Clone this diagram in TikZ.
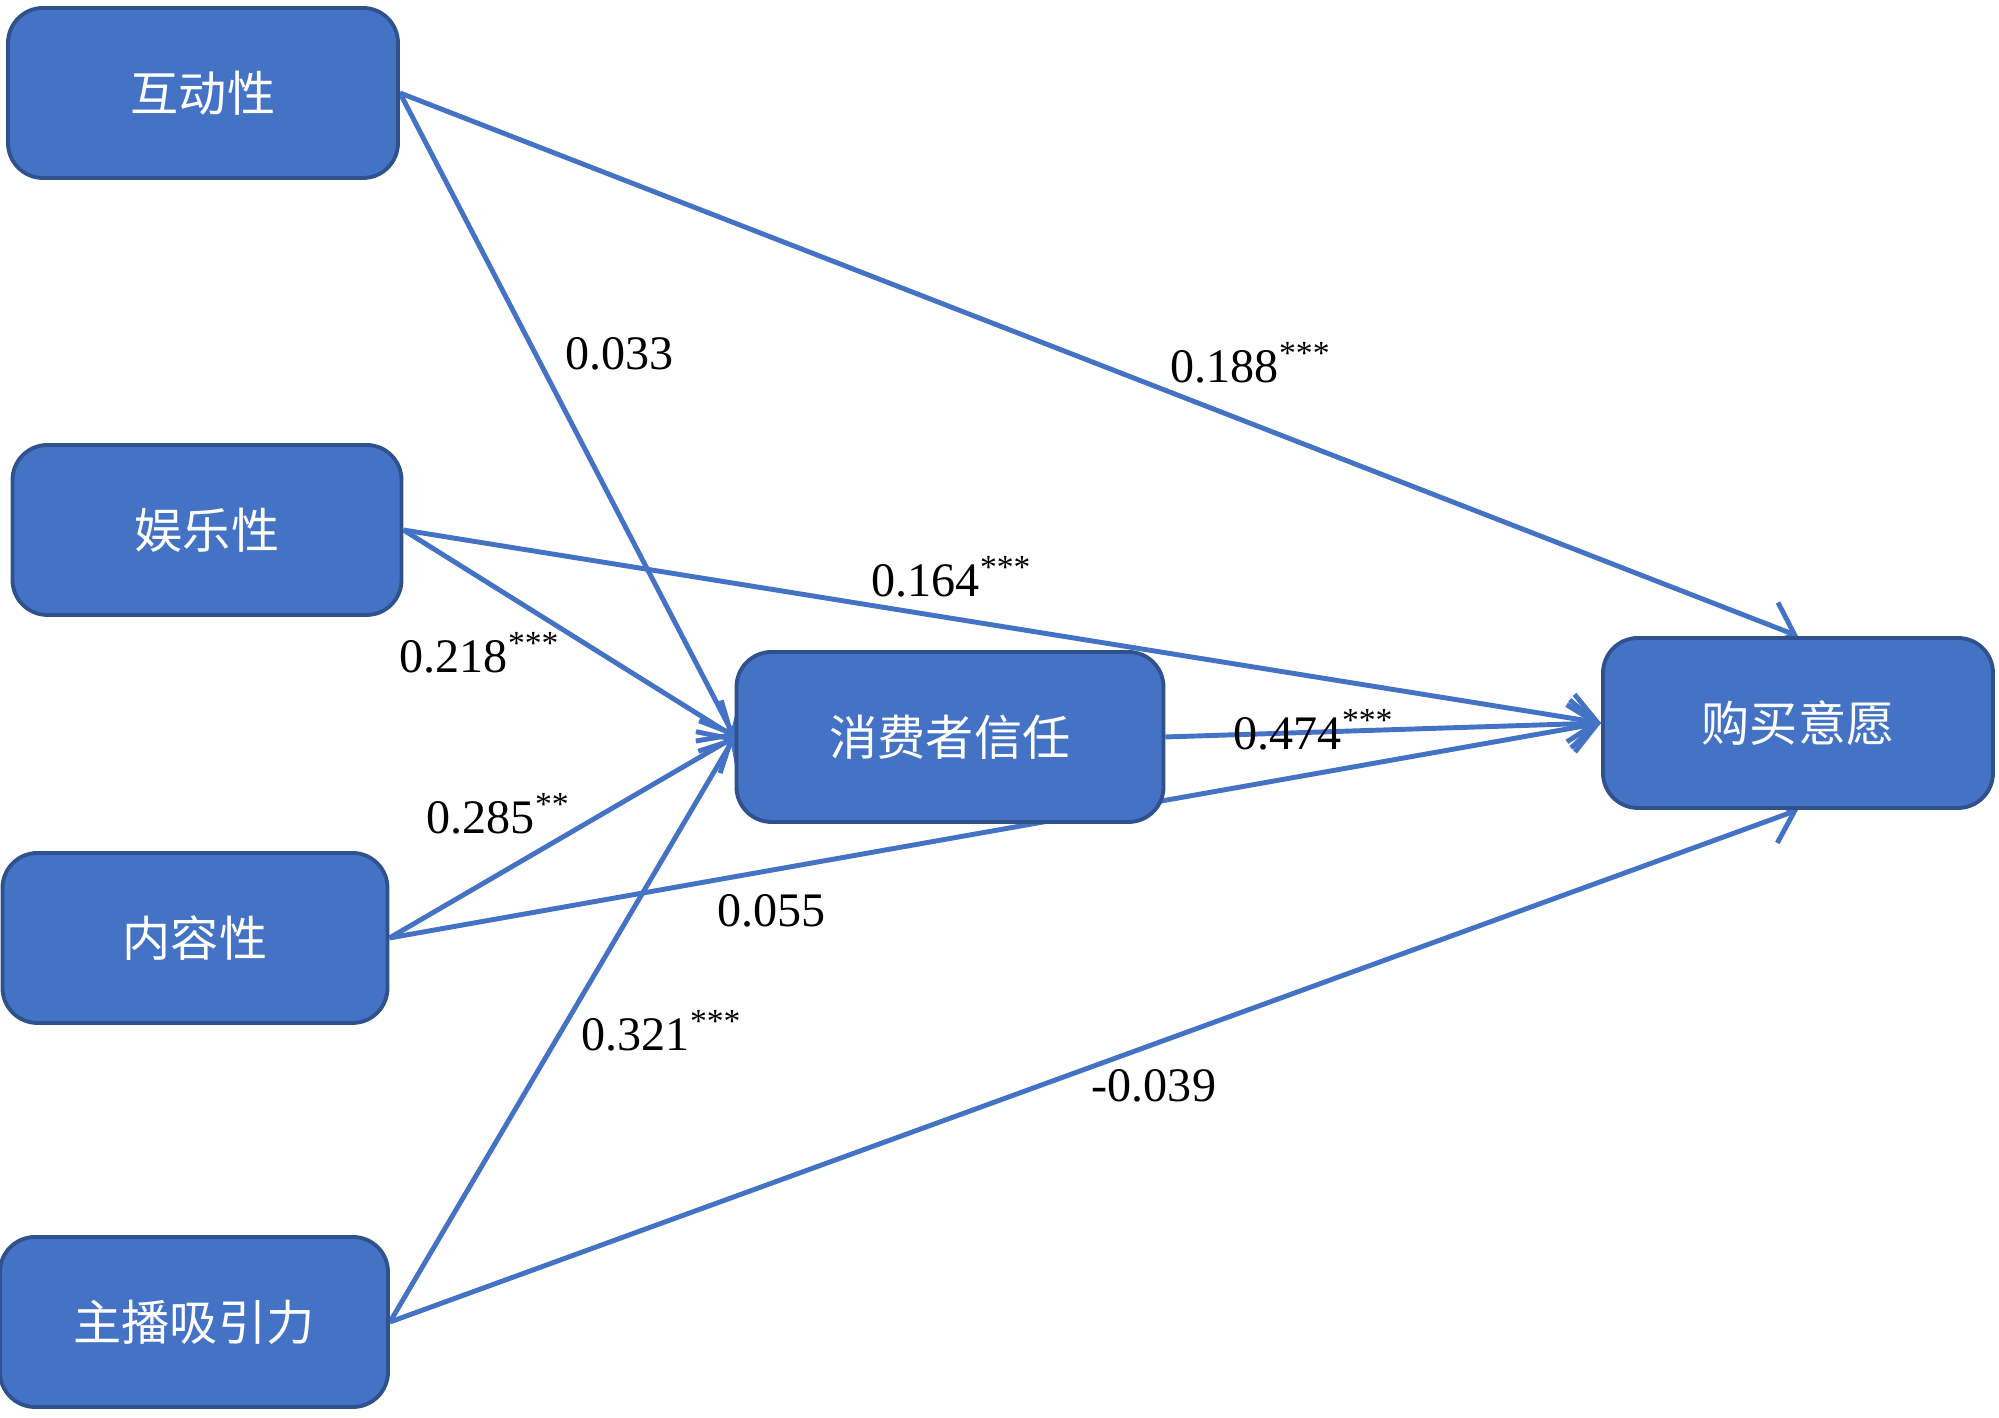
\documentclass[tikz,border=0pt]{standalone}
\usepackage{fontspec}
\setmainfont{Liberation Serif}
\newfontfamily\cjk{Noto Sans CJK SC}
\usepackage{xcolor}
\usepackage{tikz}
\usetikzlibrary{positioning,arrows.meta,backgrounds}
\definecolor{boxblue}{HTML}{4472C4}
\definecolor{edgeblue}{HTML}{2F528F}

\begin{document}
\begin{tikzpicture}[
    var/.style={draw=edgeblue, line width=1.1pt, fill=boxblue, rounded corners=0.35cm,
        minimum height=1.7cm, text=white, font=\cjk\fontsize{13.7}{16}\selectfont},
    link/.style={draw=boxblue, line width=1.4pt, -{Straight Barb[length=0.27cm, width=0.48cm]}},
    coef/.style={anchor=base west, inner sep=0pt, font=\fontsize{13.7}{16}\selectfont}
]
    \useasboundingbox (0,0) rectangle (19.99,14.18);
    \node[var, minimum width=3.90cm] (hd) at (2.03,13.25) {互动性};
    \node[var, minimum width=3.89cm] (yl) at (2.07,8.88) {娱乐性};
    \node[var, minimum width=3.85cm] (nr) at (1.95,4.80) {内容性};
    \node[var, minimum width=3.88cm] (zb) at (1.94,0.96) {主播吸引力};
    \node[var, minimum width=4.27cm] (xr) at (9.50,6.81) {消费者信任};
    \node[var, minimum width=3.90cm] (gm) at (17.98,6.95) {购买意愿};
    \begin{scope}[on background layer]
        \foreach \a/\b in {hd.east/xr.west, yl.east/xr.west, nr.east/xr.west, zb.east/xr.west,
            hd.east/gm.north, yl.east/gm.west, nr.east/gm.west, xr.east/gm.west, zb.east/gm.south}
            \draw[link] (\a) -- (\b);
    \end{scope}
    \foreach \n/\x/\y/\t in {c1/5.65/10.48/{0.033}, c2/11.70/10.35/{0.188\textsuperscript{***}},
        c3/8.71/8.21/{0.164\textsuperscript{***}}, c4/3.99/7.45/{0.218\textsuperscript{***}},
        c5/12.33/6.68/{0.474\textsuperscript{***}}, c6/4.26/5.84/{0.285\textsuperscript{**}},
        c7/7.17/4.91/{0.055}, c8/5.81/3.67/{0.321\textsuperscript{***}}, c9/10.91/3.16/{-0.039}}
        \node[coef] (\n) at (\x,\y) {\t};
\end{tikzpicture}
\end{document}
